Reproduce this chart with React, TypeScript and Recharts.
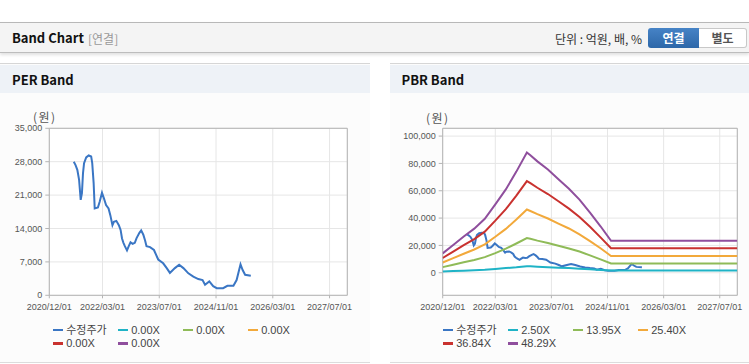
import React from 'react';
import {
  LineChart,
  Line,
  XAxis,
  YAxis,
  CartesianGrid,
  ReferenceArea,
} from 'recharts';

// ---- x axis (months since 2020/12/01) ----
const tickMonths = [0, 15, 31, 47, 63, 79];
const tickLabels = ['2020/12/01', '2022/03/01', '2023/07/01', '2024/11/01', '2026/03/01', '2027/07/01'];
const xDomain = [0, 84];

// ---- adjusted price (수정주가) ----
const priceMonths = [
  6.9, 7.4, 7.9, 8.4, 8.85, 9.2, 9.5, 9.8, 10.4, 11.1,
  11.8, 12.1, 12.5, 12.8, 13.7, 14.2, 14.85, 15.4, 16.0, 16.7,
  17.2, 17.8, 18.2, 18.9, 19.6, 20.1, 20.5, 20.9, 21.3, 21.9,
  22.4, 22.9, 23.5, 24.1, 24.6, 25.4, 25.9, 26.5, 27.0, 27.4,
  28.4, 29.5, 30.7, 32.1, 33.1, 34.0, 35.4, 36.6, 37.8, 39.2,
  40.6, 42.0, 43.2, 43.9, 45.1, 46.2, 47.2, 49.0, 50.2, 51.9,
  52.8, 53.9, 54.5, 55.2, 56.8,
];
const priceValues = [
  28000, 27300, 26300, 24200, 20000, 21400, 25600, 27700, 28900, 29300,
  29100, 27700, 23500, 18200, 18400, 19600, 21500, 20300, 18900, 18200,
  16800, 14700, 15400, 15600, 14700, 13700, 11900, 11000, 10300, 9400,
  10300, 11100, 10800, 11000, 12000, 13100, 13600, 12700, 11500, 10300,
  10100, 9500, 7500, 6700, 5700, 4700, 5700, 6400, 5700, 4600,
  3900, 3400, 3200, 2200, 2900, 1900, 1500, 1500, 2000, 2000,
  3200, 6500, 5300, 4300, 4100,
];

// ---- PBR band lines ----
const bandMonths = [0, 3, 6, 9, 12, 15, 18, 21, 24, 25, 27, 30, 33, 36, 39, 42, 45, 48, 84];
const pbr250 = [900, 1200, 1500, 1800, 2200, 2800, 3400, 4000, 4800, 4700, 4400, 4100, 3700, 3400, 3000, 2600, 2100, 1600, 1600];
const pbr1395 = [4100, 5900, 7700, 9300, 11400, 14400, 17600, 21400, 25400, 24900, 23500, 21800, 19800, 17800, 15500, 12700, 9800, 6800, 6800];
const pbr2540 = [7500, 10700, 13900, 17000, 20800, 26300, 32100, 38900, 46300, 45200, 42900, 39700, 36000, 32400, 28100, 23100, 17900, 12300, 12300];
const pbr3684 = [10800, 15500, 20200, 24600, 30100, 38100, 46500, 56500, 67100, 65600, 62200, 57600, 52300, 46900, 40800, 33600, 25900, 17900, 17900];
const pbr4829 = [14200, 20300, 26500, 32300, 39500, 50000, 61000, 74000, 88000, 86000, 81500, 75500, 68500, 61500, 53500, 44000, 34000, 23400, 23400];

// ---- legend ----
const seriesColors = ['#3a76c4', '#1fb3c6', '#8fbb58', '#f2a93b', '#c9322f', '#8f4f9d'];
const perLegend = ['수정주가', '0.00X', '0.00X', '0.00X', '0.00X', '0.00X'];
const pbrLegend = ['수정주가', '2.50X', '13.95X', '25.40X', '36.84X', '48.29X'];

// ---- y axes ----
const perTicks = [0, 7000, 14000, 21000, 28000, 35000];
const perDomain = [0, 35000];
const pbrTicks = [0, 20000, 40000, 60000, 80000, 100000];
const pbrDomain = [-16500, 105700];

const toPts = (xs: number[], ys: number[]) => xs.map((m, i) => ({ m, v: ys[i] }));

const priceData = toPts(priceMonths, priceValues);

const tickFont = '"Liberation Sans", Arial, sans-serif';
const uiFont = '"Noto Sans CJK KR", "Noto Sans", sans-serif';

const fmt = (v: number) => v.toLocaleString('en-US');
const xFmt = (v: number) => tickLabels[tickMonths.indexOf(v)] ?? '';

type Series = { data: { m: number; v: number }[]; color: string };

function Chart(props: {
  left: number;
  width: number;
  yW: number;
  mRight: number;
  domain: number[];
  ticks: number[];
  series: Series[];
}) {
  const { left, width, yW, mRight, domain, ticks, series } = props;
  return (
    <div style={{ position: 'absolute', left, top: 100, width, height: 220 }}>
      <LineChart
        width={width}
        height={220}
        margin={{ top: 28.3, right: mRight, bottom: 0, left: 0 }}
      >
        <CartesianGrid stroke="#e6e6e6" fill="#ffffff" />
        <XAxis
          type="number"
          dataKey="m"
          domain={xDomain}
          ticks={tickMonths}
          interval={0}
          allowDataOverflow
          tickFormatter={xFmt}
          height={24.7}
          tickSize={3}
          tickMargin={5}
          axisLine={false}
          tickLine={{ stroke: '#b4b4b4' }}
          tick={{ fill: '#555', fontSize: 9, fontFamily: tickFont }}
        />
        <YAxis
          type="number"
          domain={domain}
          ticks={ticks}
          interval={0}
          allowDataOverflow
          tickFormatter={fmt}
          width={yW}
          tickSize={4}
          tickMargin={3}
          axisLine={false}
          tickLine={{ stroke: '#b4b4b4' }}
          tick={{ fill: '#555', fontSize: 9, fontFamily: tickFont }}
        />
        {series.map((s, i) => (
          <Line
            key={i}
            data={s.data}
            dataKey="v"
            type="linear"
            stroke={s.color}
            strokeWidth={2}
            dot={false}
            activeDot={false}
            isAnimationActive={false}
          />
        ))}
        <ReferenceArea
          x1={xDomain[0]}
          x2={xDomain[1]}
          y1={domain[0]}
          y2={domain[1]}
          fill="none"
          stroke="#b4b4b4"
          strokeWidth={1}
          ifOverflow="visible"
        />
      </LineChart>
    </div>
  );
}

function LegendBlock({ left, labels }: { left: number; labels: string[] }) {
  return (
    <>
      {labels.map((lab, i) => {
        const col = i % 4;
        const row = Math.floor(i / 4);
        return (
          <div
            key={i}
            style={{
              position: 'absolute',
              left: left + col * 65,
              top: 323 + row * 13.3,
              height: 14,
              display: 'flex',
              alignItems: 'center',
              whiteSpace: 'nowrap',
            }}
          >
            <div style={{ width: 10.5, height: 2.5, background: seriesColors[i], marginRight: 3 }} />
            <span style={{ fontSize: 11, color: '#444', fontFamily: `"Liberation Sans", "Noto Sans CJK KR", sans-serif`, lineHeight: '14px' }}>
              {lab}
            </span>
          </div>
        );
      })}
    </>
  );
}

function Panel({ left, width, title, titleLeft }: { left: number; width: number; title: string; titleLeft: number }) {
  return (
    <>
      <div
        style={{
          position: 'absolute',
          left,
          top: 63,
          width,
          height: 300,
          background: '#fcfcfc',
          borderTop: '1.5px solid #d6d6d6',
          borderBottom: '1.5px solid #dcdcdc',
          boxSizing: 'border-box',
        }}
      />
      <div
        style={{
          position: 'absolute',
          left,
          top: 64.5,
          width,
          height: 28.5,
          background: '#eef2f7',
        }}
      />
      <div
        style={{
          position: 'absolute',
          left: titleLeft,
          top: 71,
          fontSize: 13,
          fontWeight: 700,
          color: '#111',
          fontFamily: uiFont,
          lineHeight: '18px',
        }}
      >
        {title}
      </div>
    </>
  );
}

export default function App() {
  const perSeries: Series[] = [{ data: priceData, color: seriesColors[0] }];
  const pbrSeries: Series[] = [
    { data: priceData, color: seriesColors[0] },
    { data: toPts(bandMonths, pbr250), color: seriesColors[1] },
    { data: toPts(bandMonths, pbr1395), color: seriesColors[2] },
    { data: toPts(bandMonths, pbr2540), color: seriesColors[3] },
    { data: toPts(bandMonths, pbr3684), color: seriesColors[4] },
    { data: toPts(bandMonths, pbr4829), color: seriesColors[5] },
  ];
  return (
    <div
      style={{
        position: 'absolute',
        left: 0,
        top: 0,
        width: 749,
        height: 364,
        background: '#fff',
        overflow: 'hidden',
        fontFamily: uiFont,
      }}
    >
      {/* top header bar */}
      <div
        style={{
          position: 'absolute',
          left: 0,
          top: 22,
          width: 749,
          height: 31,
          background: '#f4f4f4',
          borderTop: '1px solid #b8b8b8',
          borderBottom: '1px solid #bdbdbd',
          boxShadow: '0 2px 3px rgba(0,0,0,0.12)',
          boxSizing: 'border-box',
        }}
      />
      <div style={{ position: 'absolute', left: 12, top: 29, fontSize: 13, fontWeight: 700, color: '#111', lineHeight: '18px' }}>
        Band Chart
      </div>
      <div style={{ position: 'absolute', left: 88, top: 30, fontSize: 12, color: '#999', lineHeight: '17px' }}>
        [연결]
      </div>
      <div style={{ position: 'absolute', right: 107, top: 30, fontSize: 12, color: '#333', lineHeight: '17px' }}>
        단위 : 억원, 배, %
      </div>
      <div
        style={{
          position: 'absolute',
          left: 648,
          top: 28,
          width: 51,
          height: 20,
          background: 'linear-gradient(#4683c6, #2d67a8)',
          borderRadius: '3px 0 0 3px',
          color: '#fff',
          fontSize: 12,
          fontWeight: 700,
          textAlign: 'center',
          lineHeight: '20px',
        }}
      >
        연결
      </div>
      <div
        style={{
          position: 'absolute',
          left: 699,
          top: 28,
          width: 48,
          height: 20,
          background: '#fff',
          border: '1px solid #c8c8c8',
          borderLeft: 'none',
          borderRadius: '0 3px 3px 0',
          boxSizing: 'border-box',
          color: '#555',
          fontSize: 12,
          fontWeight: 700,
          textAlign: 'center',
          lineHeight: '18px',
        }}
      >
        별도
      </div>

      {/* panels */}
      <Panel left={0} width={370} title="PER Band" titleLeft={12} />
      <Panel left={390} width={359} title="PBR Band" titleLeft={401.5} />

      {/* unit labels */}
      <div style={{ position: 'absolute', left: 33, top: 109, fontSize: 12, color: '#555', lineHeight: '16px', letterSpacing: 1.5 }}>(원)</div>
      <div style={{ position: 'absolute', left: 426, top: 110, fontSize: 12, color: '#555', lineHeight: '16px', letterSpacing: 1.5 }}>(원)</div>

      <Chart left={0} width={370} yW={49.3} mRight={22.7} domain={perDomain} ticks={perTicks} series={perSeries} />
      <Chart left={390} width={359} yW={52.7} mRight={11.7} domain={pbrDomain} ticks={pbrTicks} series={pbrSeries} />

      <LegendBlock left={52.7} labels={perLegend} />
      <LegendBlock left={442.7} labels={pbrLegend} />
    </div>
  );
}
